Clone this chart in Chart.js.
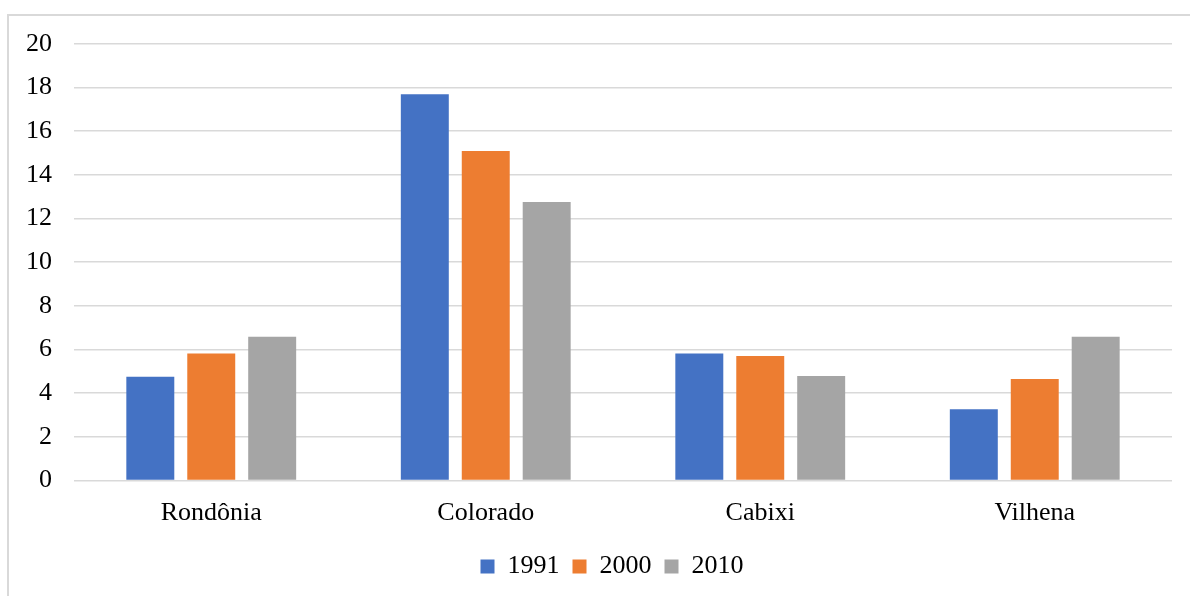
<!DOCTYPE html>
<html>
<head>
<meta charset="utf-8">
<script src="https://cdn.jsdelivr.net/npm/chart.js@4/dist/chart.umd.min.js"></script>
<style>
  html, body { margin: 0; padding: 0; background: #fff; overflow: hidden; width: 1190px; height: 596px; }
  #frame { position: absolute; left: 7px; top: 14px; width: 1200px; height: 600px; border: 2px solid #d9d9d9; background: #fff; }
  #chart { display: block; }
</style>
</head>
<body>
<div id="frame"><canvas id="chart" width="1200" height="600" style="width:1200px;height:600px"></canvas></div>
<script>
const categories = ['Rondônia', 'Colorado', 'Cabixi', 'Vilhena'];
const seriesNames = ['1991', '2000', '2010'];
const values1991 = [4.75, 17.68, 5.82, 3.26];
const values2000 = [5.81, 15.09, 5.70, 4.65];
const values2010 = [6.58, 12.75, 4.78, 6.58];
const seriesColors = ['#4472C4', '#ED7D31', '#A5A5A5'];
const yTicks = [0, 2, 4, 6, 8, 10, 12, 14, 16, 18, 20];

const FONT = "'Liberation Serif', 'Times New Roman', serif";
const seriesValues = [values1991, values2000, values2010];

new Chart(document.getElementById('chart'), {
  type: 'bar',
  data: {
    labels: categories,
    datasets: seriesNames.map((name, i) => ({
      label: name,
      data: seriesValues[i],
      backgroundColor: seriesColors[i],
      borderWidth: 0,
      categoryPercentage: 0.666,
      barPercentage: 0.787
    }))
  },
  options: {
    responsive: false,
    animation: false,
    devicePixelRatio: 1,
    layout: { padding: { left: 6, right: 0, top: 27.7, bottom: 26.4 } },
    plugins: {
      tooltip: { enabled: false },
      legend: {
        position: 'bottom',
        labels: {
          boxWidth: 14,
          boxHeight: 14,
          padding: 13,
          color: '#000',
          font: { family: FONT, size: 26 }
        }
      }
    },
    scales: {
      x: {
        grid: { display: false, drawTicks: false },
        border: { display: false },
        ticks: { color: '#000', padding: 17.2, font: { family: FONT, size: 26 } },
        afterFit: (scale) => { scale.height = 60.1; }
      },
      y: {
        min: yTicks[0],
        max: yTicks[yTicks.length - 1],
        afterBuildTicks: (scale) => { scale.ticks = yTicks.map(v => ({ value: v })); },
        grid: { color: '#d9d9d9', lineWidth: 1.5, drawTicks: false },
        border: { display: false },
        ticks: { color: '#000', padding: 22, font: { family: FONT, size: 26 } },
        afterFit: (scale) => { scale.width = 59; scale.paddingTop = 0; scale.paddingBottom = 0; }
      },
      // empty right-hand margin so the legend centres on the whole frame
      yRight: {
        position: 'right',
        grid: { display: false, drawTicks: false },
        border: { display: false },
        ticks: { display: false },
        afterFit: (scale) => { scale.width = 37; scale.paddingTop = 0; scale.paddingBottom = 0; }
      }
    }
  }
});
</script>
</body>
</html>
